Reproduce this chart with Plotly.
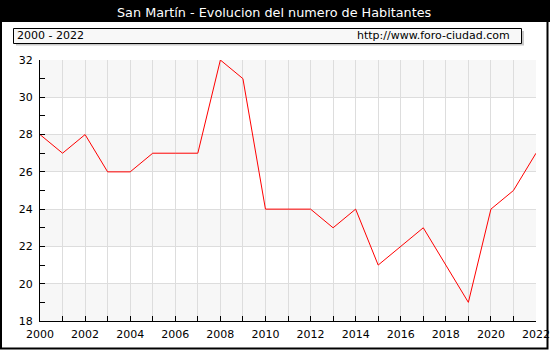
import plotly.graph_objects as go

years = list(range(2000, 2023))
habitantes = [28, 27, 28, 26, 26, 27, 27, 27, 32, 31, 24, 24, 24, 23, 24, 21, 22, 23, 21, 19, 24, 25, 27]
title_text = "San Martín - Evolucion del numero de Habitantes"
period_text = "2000 - 2022"
url_text = "http://www.foro-ciudad.com"

W, H = 550, 350
L, R, T, B = 40, 14, 60, 29
PW, PH = W - L - R, H - T - B

def px(x):
    return (x - L) / PW

def py(y):
    return (H - B - y) / PH

FONT = "DejaVu Sans"

fig = go.Figure()
fig.add_trace(go.Scatter(x=years, y=habitantes, mode="lines",
                         line=dict(color="#ff0000", width=1), hoverinfo="x+y"))

shapes = []
ymin, ymax = 18, 32
for lo in range(ymin, ymax, 4):
    shapes.append(dict(type="rect", xref="paper", yref="y", x0=0, x1=1, y0=lo, y1=lo + 2,
                       fillcolor="#f7f7f7", line=dict(width=0), layer="below"))
# title bar
shapes.append(dict(type="rect", xref="paper", yref="paper", x0=px(0), x1=px(W), y0=py(0), y1=py(22),
                   fillcolor="black", line=dict(width=0), layer="below"))
# outer frame
shapes.append(dict(type="rect", xref="paper", yref="paper", x0=px(1), x1=px(W - 2.5), y0=py(1), y1=py(H - 1.5),
                   fillcolor="rgba(0,0,0,0)", line=dict(color="black", width=2), layer="above"))
# subtitle box shadow and box
shapes.append(dict(type="rect", xref="paper", yref="paper", x0=px(16), x1=px(524), y0=py(31), y1=py(45.5),
                   fillcolor="#c8c8c8", line=dict(width=0), layer="below"))
shapes.append(dict(type="rect", xref="paper", yref="paper", x0=px(13.5), x1=px(521.5), y0=py(28.5), y1=py(43.5),
                   fillcolor="#f8f8f8", line=dict(color="black", width=1), layer="below"))

annotations = [
    dict(text=title_text, xref="paper", yref="paper", x=px(274), y=py(12), showarrow=False,
         xanchor="center", yanchor="middle", font=dict(family=FONT, size=12.8, color="white")),
    dict(text=period_text, xref="paper", yref="paper", x=px(15), y=py(36), showarrow=False,
         xanchor="left", yanchor="middle", font=dict(family=FONT, size=11, color="black")),
    dict(text=url_text, xref="paper", yref="paper", x=px(512), y=py(36), showarrow=False,
         xanchor="right", yanchor="middle", font=dict(family=FONT, size=11, color="black")),
]

fig.update_layout(
    width=W, height=H, autosize=False,
    margin=dict(l=L, r=R, t=T, b=B, pad=0, autoexpand=False),
    paper_bgcolor="white", plot_bgcolor="white",
    showlegend=False,
    shapes=shapes, annotations=annotations,
    font=dict(family=FONT, size=11, color="black"),
)
fig.update_xaxes(range=[2000, 2022], dtick=2, tick0=2000, showgrid=True, gridcolor="#dddddd", gridwidth=1,
                 showline=True, linecolor="black", linewidth=1, ticks="inside", ticklen=5, tickcolor="black",
                 minor=dict(dtick=1, ticks="inside", ticklen=5, tickcolor="black", showgrid=True,
                            gridcolor="#dddddd", gridwidth=1),
                 ticklabelstandoff=3, automargin=False,
                 zeroline=False, tickfont=dict(family=FONT, size=11))
fig.update_yaxes(range=[18, 32], dtick=2, tick0=18, showgrid=True, gridcolor="#dddddd", gridwidth=1,
                 showline=True, linecolor="black", linewidth=1, ticks="inside", ticklen=5, tickcolor="black",
                 minor=dict(dtick=1, ticks="inside", ticklen=5, tickcolor="black", showgrid=False),
                 ticklabelstandoff=4, automargin=False,
                 zeroline=False, tickfont=dict(family=FONT, size=11))

fig.write_html("out.html", config={"responsive": False})
